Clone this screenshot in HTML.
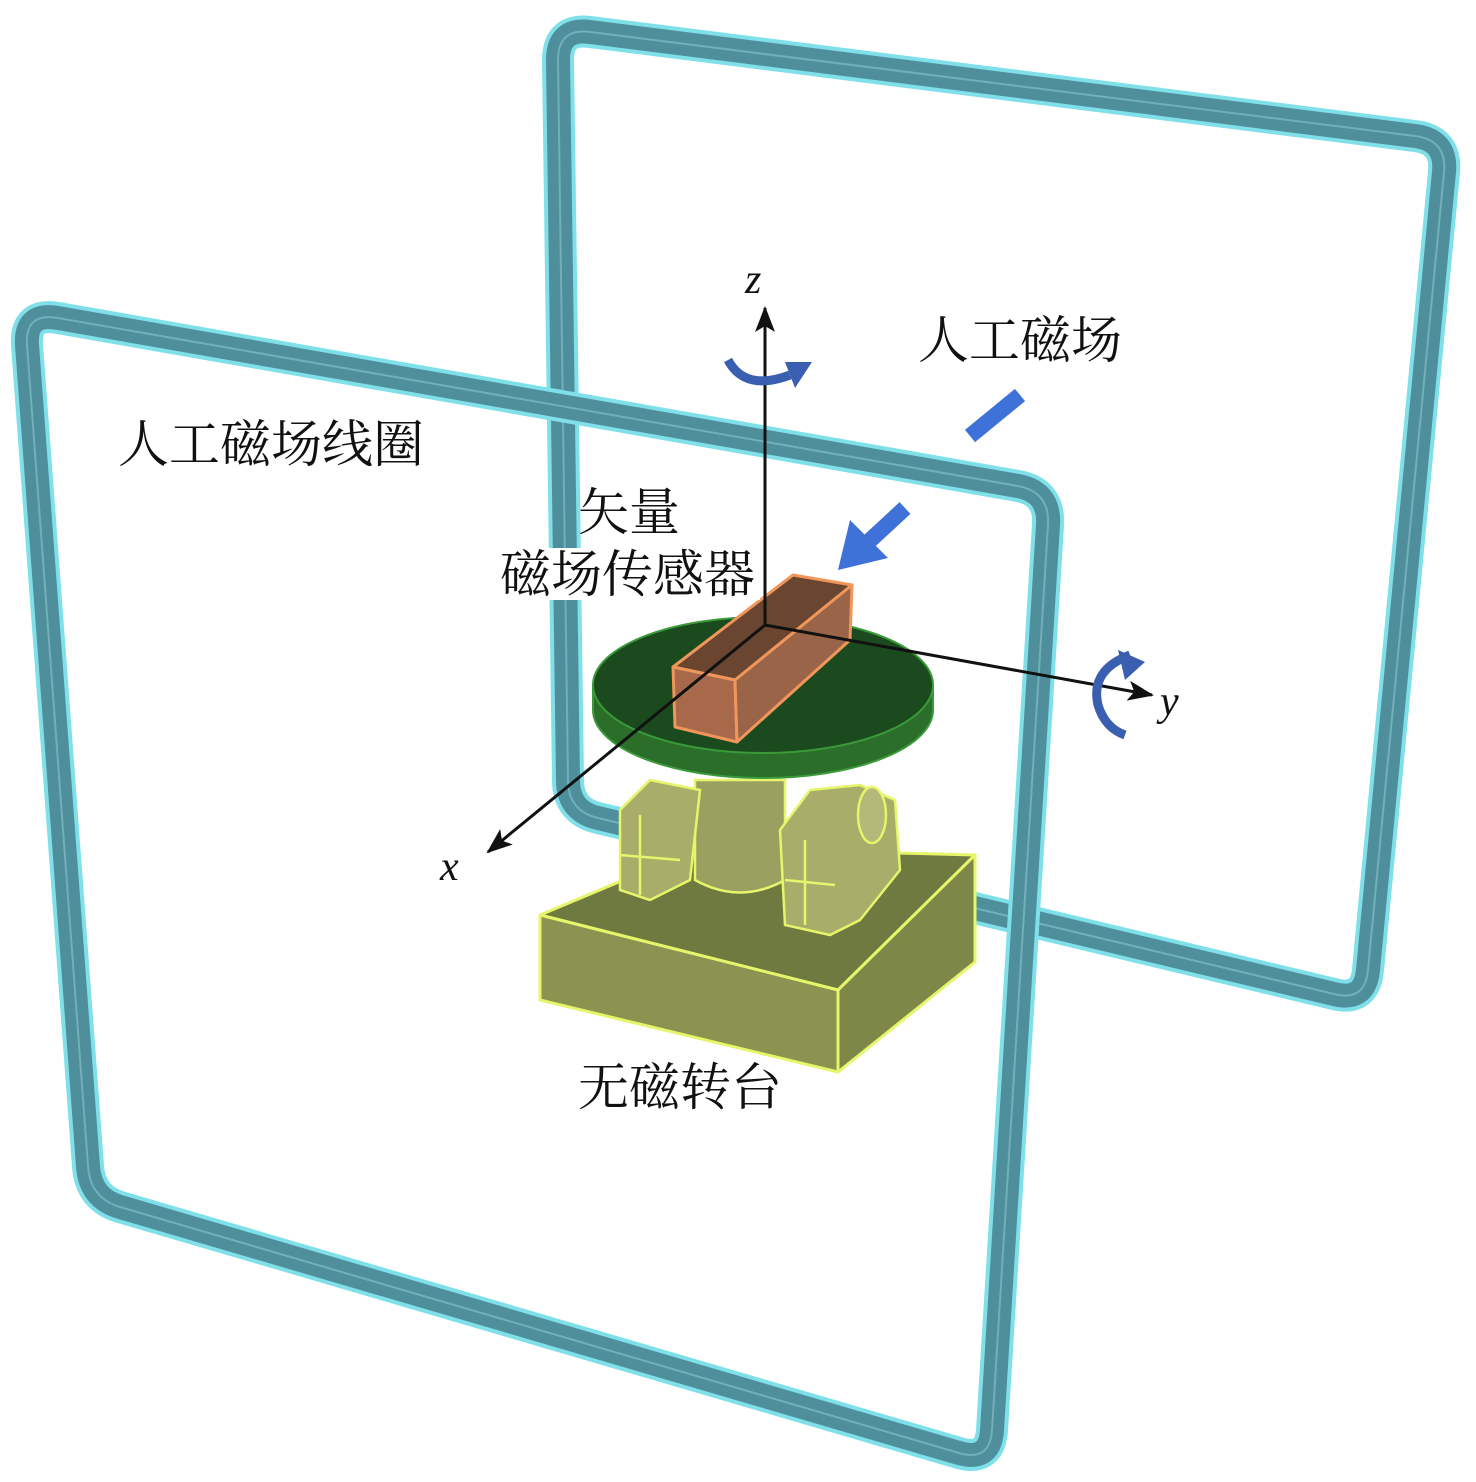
<!DOCTYPE html>
<html><head><meta charset="utf-8"><style>
html,body{margin:0;padding:0;background:#fff}
svg{display:block}
text{font-family:"Liberation Serif","Noto Serif CJK SC",serif;fill:#111}
</style></head><body>
<svg width="1476" height="1482" viewBox="0 0 1476 1482" xmlns="http://www.w3.org/2000/svg">
<defs>
<marker id="ah" markerWidth="26" markerHeight="20" refX="24" refY="10" orient="auto" markerUnits="userSpaceOnUse" viewBox="0 0 26 20">
<path d="M0,0 L26,10 L0,20 L6,10 Z" fill="#111"/></marker>
</defs>
<!-- back coil -->
<g fill="none" stroke-linejoin="round">
<path id="bc" d="M558,60 Q558,28 590,32 L1415,136 Q1447,140 1444,172 L1368,970 Q1365,1002 1334,994 L598,818 Q568,811 568,780 Z" stroke="#7fe0ea" stroke-width="32"/>
<path d="M558,60 Q558,28 590,32 L1415,136 Q1447,140 1444,172 L1368,970 Q1365,1002 1334,994 L598,818 Q568,811 568,780 Z" stroke="#4f8f9c" stroke-width="24"/>
<path d="M558,60 Q558,28 590,32 L1415,136 Q1447,140 1444,172 L1368,970 Q1365,1002 1334,994 L598,818 Q568,811 568,780 Z" stroke="#6fb0bb" stroke-width="2"/>
</g>
<!-- front coil -->
<g fill="none" stroke-linejoin="round">
<path d="M27,345 Q25,312 58,318 L1018,486 Q1050,492 1048,525 L992,1430 Q990,1462 959,1453 L120,1207 Q90,1198 88,1166 Z" stroke="#7fe0ea" stroke-width="32"/>
<path d="M27,345 Q25,312 58,318 L1018,486 Q1050,492 1048,525 L992,1430 Q990,1462 959,1453 L120,1207 Q90,1198 88,1166 Z" stroke="#4f8f9c" stroke-width="24"/>
<path d="M27,345 Q25,312 58,318 L1018,486 Q1050,492 1048,525 L992,1430 Q990,1462 959,1453 L120,1207 Q90,1198 88,1166 Z" stroke="#6fb0bb" stroke-width="2"/>
</g>
<!-- base -->
<g stroke="#e6f56a" stroke-width="3" stroke-linejoin="round">
<polygon points="540,915 700,848 975,855 838,990" fill="#6e7a40"/>
<polygon points="540,915 838,990 838,1072 540,1000" fill="#8a9450"/>
<polygon points="838,990 975,855 975,962 838,1072" fill="#7d8848"/>
</g>
<!-- pedestal -->
<g stroke="#e6f56a" stroke-width="2.5" fill="#a8ad6a">
<path d="M695,780 L695,880 Q740,905 785,880 L785,780 Z" fill="#9aa060"/>
<polygon points="620,810 650,780 700,790 690,880 650,900 620,890"/>
<polygon points="780,830 810,790 860,785 895,800 900,870 860,920 830,935 785,925" />
<ellipse cx="872" cy="815" rx="14" ry="28" fill="#b4b878"/>
<line x1="640" y1="815" x2="640" y2="895"/><line x1="620" y1="855" x2="680" y2="860"/>
<line x1="805" y1="840" x2="805" y2="925"/><line x1="785" y1="880" x2="835" y2="885"/>
</g>
<!-- disk -->
<path d="M593,685 L593,710 A170,68 0 0 0 933,710 L933,685 Z" fill="#2a6e2a" stroke="#3a9a3a" stroke-width="2"/>
<ellipse cx="763" cy="685" rx="170" ry="68" fill="#1b4a1e" stroke="#3a9a3a" stroke-width="2"/>
<!-- sensor -->
<g stroke="#f0965a" stroke-width="3" stroke-linejoin="round">
<polygon points="673,667 793,575 852,585 735,680" fill="#6a4530"/>
<polygon points="673,667 735,680 737,742 675,727" fill="#a8694a"/>
<polygon points="735,680 852,585 850,640 737,742" fill="#9a6448"/>
</g>
<!-- axes -->
<g stroke="#111" stroke-width="3" fill="none">
<line x1="765" y1="625" x2="765" y2="308" marker-end="url(#ah)"/>
<line x1="765" y1="625" x2="1152" y2="695" marker-end="url(#ah)"/>
<line x1="765" y1="625" x2="488" y2="852" marker-end="url(#ah)"/>
</g>
<text x="745" y="293" font-size="42" font-style="italic">z</text>
<text x="1160" y="715" font-size="42" font-style="italic">y</text>
<text x="440" y="880" font-size="42" font-style="italic">x</text>
<!-- rotation arrows -->
<g fill="none" stroke="#3a5fb0" stroke-width="9">
<path d="M728,360 Q745,392 790,375"/>
<path d="M1130,655 Q1090,670 1098,705 Q1105,728 1125,735"/>
</g>
<polygon points="785,362 812,362 795,388" fill="#3a5fb0"/>
<polygon points="1118,650 1145,662 1125,680" fill="#3a5fb0"/>
<!-- field arrow -->
<g stroke="#3f72d8" stroke-width="16" fill="none">
<line x1="1020" y1="395" x2="970" y2="436"/>
<line x1="905" y1="508" x2="865" y2="545"/>
</g>
<polygon points="838,570 850,520 888,558" fill="#3f72d8"/>
<!-- labels -->
<text x="118" y="462" font-size="51">人工磁场线圈</text>
<text x="918" y="358" font-size="51">人工磁场</text>
<text x="578" y="530" font-size="51">矢量</text>
<rect x="498" y="548" width="262" height="52" fill="#fff"/>
<text x="500" y="592" font-size="51">磁场传感器</text>
<text x="578" y="1105" font-size="51">无磁转台</text>
</svg>
</body></html>
